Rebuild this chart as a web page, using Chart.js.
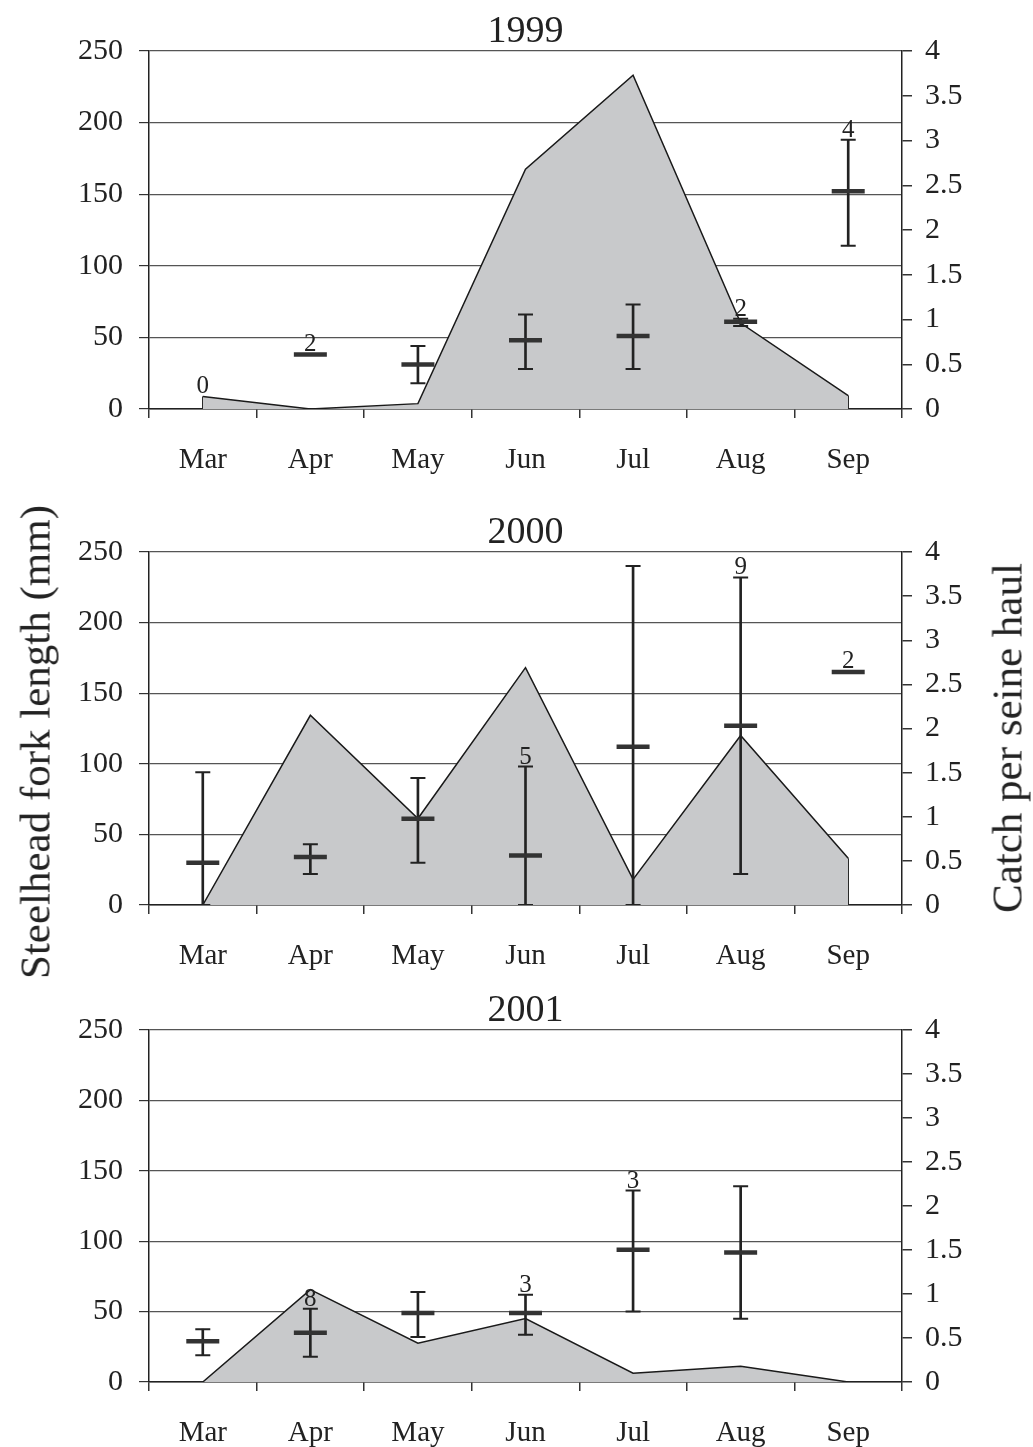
<!DOCTYPE html>
<html>
<head>
<meta charset="utf-8">
<script src="https://cdn.jsdelivr.net/npm/chart.js@4.4.1/dist/chart.umd.min.js"></script>
<style>
  body { margin: 0; background: #fff; }
  #wrap { position: relative; width: 1033px; height: 1447px; }
  canvas { position: absolute; left: 0; }
  .axis-title {
    position: absolute;
    font-family: 'Liberation Serif', 'Times New Roman', serif;
    font-size: 43px;
    line-height: 1;
    color: #222;
    white-space: nowrap;
    transform: translate(-50%, -50%) rotate(-90deg);
  }
</style>
</head>
<body>
<div id="wrap">
  <canvas id="c1999" width="1033" height="490" style="top:0px"></canvas>
  <canvas id="c2000" width="1033" height="480" style="top:490px"></canvas>
  <canvas id="c2001" width="1033" height="477" style="top:970px"></canvas>
  <div class="axis-title" style="left:35px; top:742px">Steelhead fork length (mm)</div>
  <div class="axis-title" style="left:1007px; top:738px">Catch per seine haul</div>
</div>
<script>
const months = ['Mar', 'Apr', 'May', 'Jun', 'Jul', 'Aug', 'Sep'];

// 1999
const catch1999 = [0.14, 0, 0.06, 2.68, 3.73, 0.96, 0.15];
const mean1999 = [null, 38, 31, 48, 51, 61, 152];
const high1999 = [null, null, 44, 66, 73, 63, 188];
const low1999 = [null, null, 18, 28, 28, 58, 114];
const n1999 = ['0', '2', '', '', '', '2', '4'];

// 2000
const catch2000 = [0, 2.15, 0.98, 2.69, 0.29, 1.92, 0.53];
const mean2000 = [30, 34, 61, 35, 112, 127, 165];
const high2000 = [94, 43, 90, 98, 240, 232, null];
const low2000 = [0, 22, 30, 0, 0, 22, null];
const n2000 = ['', '', '', '5', '', '9', '2'];

// 2001
const catch2001 = [0, 1.05, 0.44, 0.72, 0.10, 0.18, 0];
const mean2001 = [29, 35, 49, 49, 94, 92, null];
const high2001 = [37.5, 52, 64, 62, 136, 139, null];
const low2001 = [19, 18, 32, 33.5, 50, 45, null];
const n2001 = ['', '8', '', '3', '3', '', ''];

Chart.defaults.font.family = "'Liberation Serif', 'Times New Roman', serif";
Chart.defaults.color = '#222';

function makePanel(id, year, catchVals, mean, low, high, nText, plotTop, xAxisHeight) {
  const whiskers = low.map((l, i) => (l == null ? null : [l, high[i]]));

  // closing edges of the shaded area, year title and sample size labels
  const panelText = {
    id: 'panelText',
    beforeDatasetsDraw(chart) {
      const { ctx, scales } = chart;
      const last = catchVals.length - 1;
      ctx.save();
      ctx.strokeStyle = '#1a1a1a';
      ctx.lineWidth = 1.5;
      [0, last].forEach(i => {
        if (!catchVals[i]) return;
        const x = scales.x.getPixelForValue(i);
        ctx.beginPath();
        ctx.moveTo(x, scales.y1.getPixelForValue(catchVals[i]));
        ctx.lineTo(x, scales.y1.getPixelForValue(0));
        ctx.stroke();
      });
      ctx.restore();
    },
    afterDatasetsDraw(chart) {
      const { ctx, chartArea, scales } = chart;
      ctx.save();
      ctx.fillStyle = '#222';
      ctx.textAlign = 'center';
      ctx.textBaseline = 'alphabetic';
      ctx.font = "38px 'Liberation Serif', serif";
      ctx.fillText(year, (chartArea.left + chartArea.right) / 2, chartArea.top - 9);
      ctx.font = "25px 'Liberation Serif', serif";
      nText.forEach((t, i) => {
        if (!t) return;
        let y;
        if (high[i] != null) y = scales.y.getPixelForValue(high[i]);
        else if (mean[i] != null) y = scales.y.getPixelForValue(mean[i]) - 1;
        else y = scales.y1.getPixelForValue(catchVals[i]);
        ctx.fillText(t, scales.x.getPixelForValue(i), y - 3);
      });
      ctx.restore();
    }
  };

  new Chart(document.getElementById(id), {
    type: 'bar',
    data: {
      labels: months,
      datasets: [
        {
          type: 'line', data: catchVals, yAxisID: 'y1',
          fill: 'origin', backgroundColor: '#c8c9cb',
          borderColor: '#1a1a1a', borderWidth: 1.5,
          pointRadius: 0, tension: 0, order: 10
        },
        {
          type: 'bar', data: whiskers, yAxisID: 'y',
          backgroundColor: '#222', barThickness: 2, order: 3
        },
        {
          type: 'line', data: high, yAxisID: 'y', showLine: false,
          pointStyle: 'line', pointRadius: 7.5, pointBorderWidth: 2,
          pointBorderColor: '#222', order: 2
        },
        {
          type: 'line', data: low, yAxisID: 'y', showLine: false,
          pointStyle: 'line', pointRadius: 7.5, pointBorderWidth: 2,
          pointBorderColor: '#222', order: 2
        },
        {
          type: 'line', data: mean, yAxisID: 'y', showLine: false,
          pointStyle: 'line', pointRadius: 16.5, pointBorderWidth: 4.5,
          pointBorderColor: '#333', order: 1
        }
      ]
    },
    options: {
      responsive: false,
      animation: false,
      layout: { padding: { top: plotTop, left: 0, right: 0, bottom: 0 } },
      plugins: { legend: { display: false }, tooltip: { enabled: false } },
      scales: {
        x: {
          offset: true,
          grid: { offset: true, drawOnChartArea: false, tickLength: 9, color: '#333', lineWidth: 1.5 },
          border: { color: '#222', width: 1.5 },
          ticks: { font: { size: 29 }, padding: 25, maxRotation: 0, autoSkip: false, color: '#222' },
          afterFit: s => { s.height = xAxisHeight; }
        },
        y: {
          position: 'left', min: 0, max: 250,
          ticks: { stepSize: 50, font: { size: 30 }, padding: 16, color: '#222', callback: v => String(v) },
          grid: { color: '#555', lineWidth: 1.2, tickLength: 10, tickColor: '#333' },
          border: { color: '#222', width: 1.5 },
          afterFit: s => { s.width = 149; }
        },
        y1: {
          position: 'right', min: 0, max: 4,
          ticks: { stepSize: 0.5, font: { size: 30 }, padding: 13, color: '#222', callback: v => String(v) },
          grid: { drawOnChartArea: false, tickLength: 10, color: '#333', lineWidth: 1.5 },
          border: { color: '#222', width: 1.5 },
          afterFit: s => { s.width = 131; }
        }
      }
    },
    plugins: [panelText]
  });
}

makePanel('c1999', '1999', catch1999, mean1999, low1999, high1999, n1999, 51, 81);
makePanel('c2000', '2000', catch2000, mean2000, low2000, high2000, n2000, 62, 65);
makePanel('c2001', '2001', catch2001, mean2001, low2001, high2001, n2001, 60, 65);
</script>
</body>
</html>
